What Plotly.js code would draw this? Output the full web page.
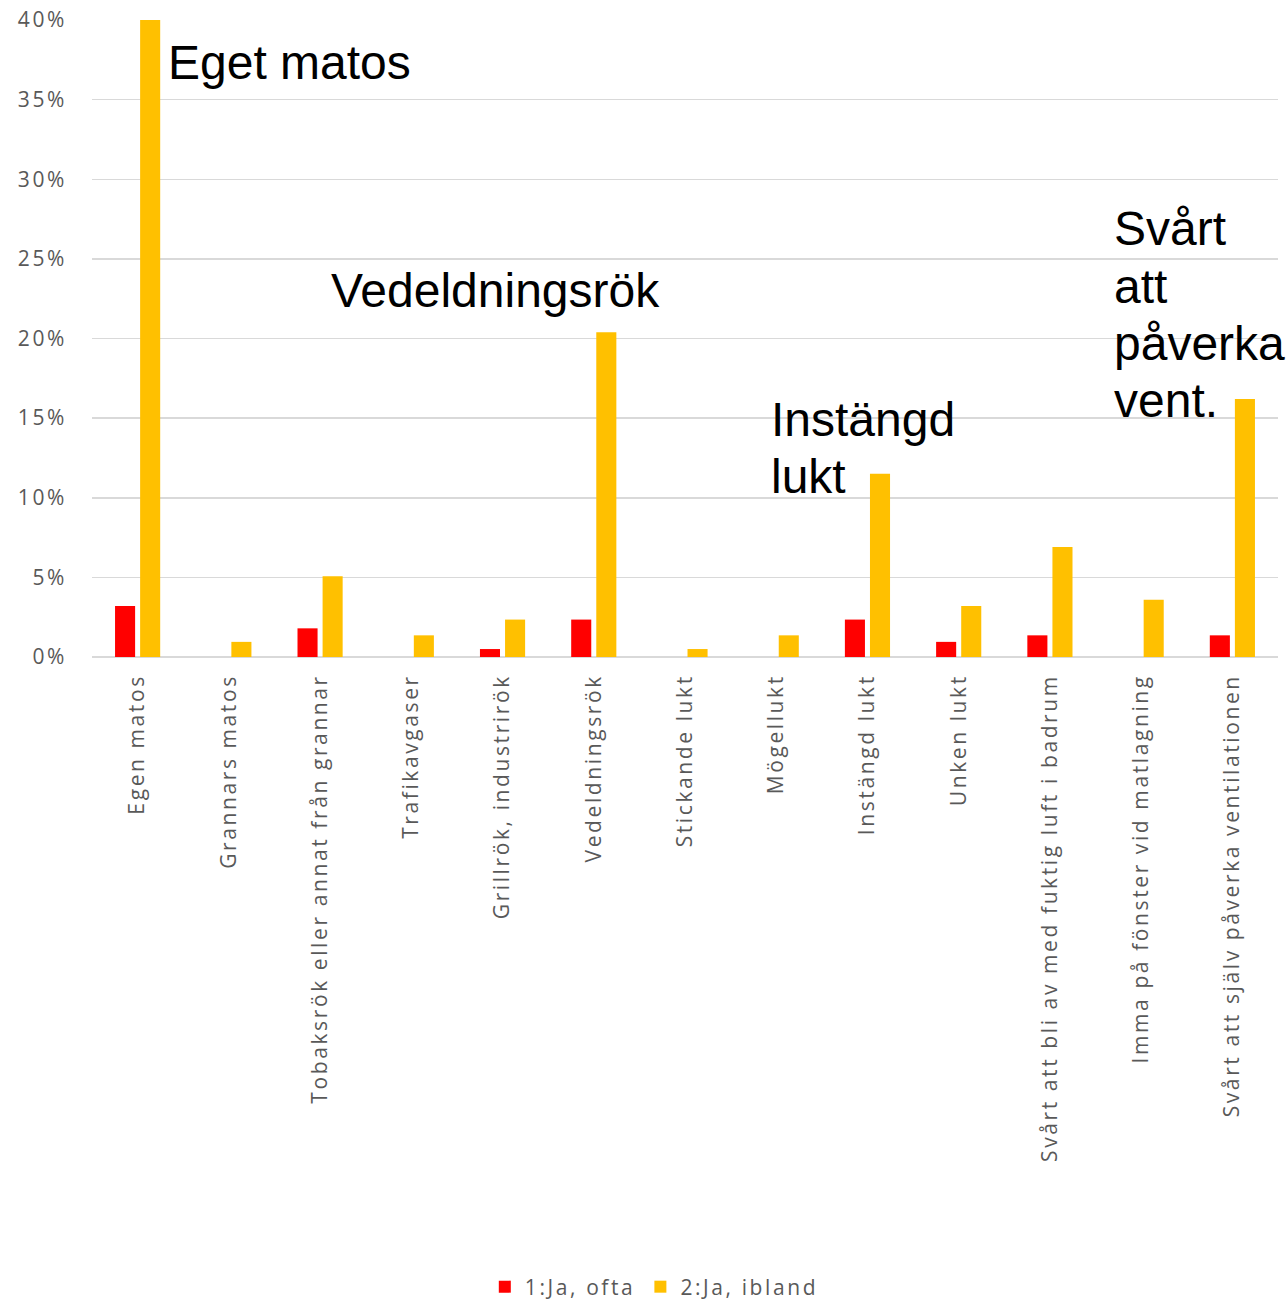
<!DOCTYPE html>
<html>
<head>
<meta charset="utf-8">
<script src="https://cdn.plot.ly/plotly-3.0.1.min.js"></script>
<style>
  html, body { margin: 0; padding: 0; background: #fff; }
  #chart { width: 1288px; height: 1302px; }
  .xtick text, .ytick text, .legendtext { letter-spacing: 2.6px; }
</style>
</head>
<body>
<div id="chart"></div>
<script>
const categories = [
  "Egen matos",
  "Grannars matos",
  "Tobaksrök eller annat från grannar",
  "Trafikavgaser",
  "Grillrök, industrirök",
  "Vedeldningsrök",
  "Stickande lukt",
  "Mögellukt",
  "Instängd lukt",
  "Unken lukt",
  "Svårt att bli av med fuktig luft i badrum",
  "Imma på fönster vid matlagning",
  "Svårt att själv påverka ventilationen"
];
const seriesNames = ["1:Ja, ofta", "2:Ja, ibland"];
const jaOfta =   [3.2, 0,   1.8, 0,   0.5, 2.35, 0,   0,   2.35, 0.95, 1.36, 0,   1.36];
const jaIbland = [40,  0.95, 5.07, 1.36, 2.35, 20.4, 0.5, 1.36, 11.5, 3.2, 6.9, 3.6, 16.2];
const yTickVals = [0, 5, 10, 15, 20, 25, 30, 35, 40];
const yTickText = ["0%", "5%", "10%", "15%", "20%", "25%", "30%", "35%", "40%"];
const calloutLines = [
  ["Eget matos"],
  ["Vedeldningsrök"],
  ["Instängd", "lukt"],
  ["Svårt", "att", "påverka", "vent."]
];

const tickFont = { family: "Open Sans, Noto Sans, sans-serif", size: 21, color: "#595959" };
const calloutFont = { family: "Liberation Sans, Arial, sans-serif", size: 48, color: "#000000" };

const traces = [
  { type: "bar", name: seriesNames[0], x: categories, y: jaOfta, marker: { color: "#FF0000" } },
  { type: "bar", name: seriesNames[1], x: categories, y: jaIbland, marker: { color: "#FFC000" } }
];

// callout placement (paper coords, left x; vertical centres per line)
const calloutX = [0.0635, 0.2005, 0.5715, 0.8605];
const calloutY = [[0.9340], [0.5746], [0.3730, 0.2835], [0.6719, 0.5810, 0.4914, 0.4019]];
const annotations = [];
calloutLines.forEach((lines, i) => {
  lines.forEach((t, j) => {
    annotations.push({
      xref: "paper", yref: "paper", x: calloutX[i], y: calloutY[i][j],
      xanchor: "left", yanchor: "middle", text: t, showarrow: false,
      font: calloutFont, borderpad: 0
    });
  });
});

const layout = {
  width: 1288, height: 1302,
  margin: { l: 92, r: 10, t: 20, b: 645, autoexpand: false },
  paper_bgcolor: "#ffffff", plot_bgcolor: "#ffffff",
  barmode: "group", bargap: 0.45, bargroupgap: 0.2,
  showlegend: true,
  legend: {
    orientation: "h", xref: "container", yref: "container",
    x: 0.508, xanchor: "center", y: 0.0115, yanchor: "middle",
    font: tickFont, itemwidth: 30, traceorder: "normal"
  },
  xaxis: {
    type: "category", tickangle: -90, tickfont: tickFont,
    showgrid: false, showline: false, ticks: "", ticklabelstandoff: 12,
    fixedrange: true, automargin: false
  },
  yaxis: {
    range: [0, 40], tickvals: yTickVals, ticktext: yTickText, tickfont: tickFont,
    showgrid: true, gridcolor: "#d9d9d9", gridwidth: 1.5,
    zeroline: true, zerolinecolor: "#d9d9d9", zerolinewidth: 1.5,
    showline: false, ticks: "", ticklabelstandoff: 24, fixedrange: true, automargin: false
  },
  annotations: annotations
};

Plotly.newPlot("chart", traces, layout, { displayModeBar: false, staticPlot: true });
</script>
</body>
</html>
